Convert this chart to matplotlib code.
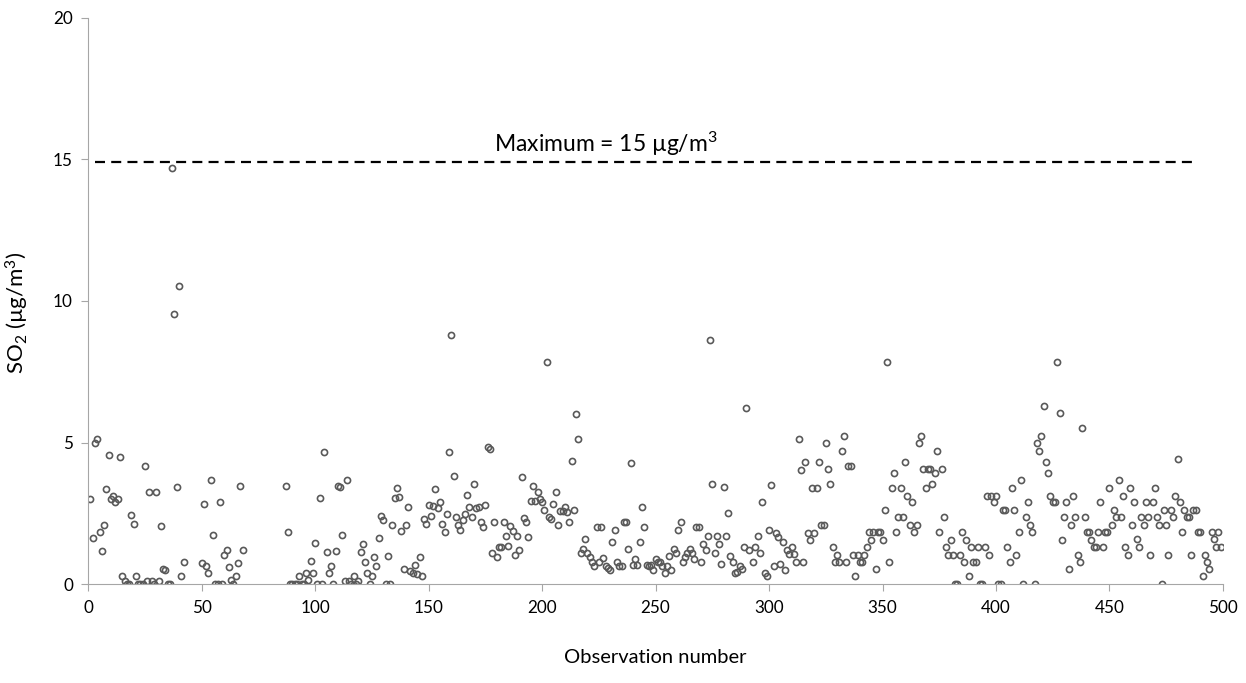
import matplotlib.pyplot as plt

plt.rcParams['font.family'] = ['Lato', 'DejaVu Sans']
plt.rcParams['mathtext.fontset'] = 'custom'
plt.rcParams['mathtext.rm'] = 'Lato'
plt.rcParams['mathtext.it'] = 'Lato'

# observation number / SO2 concentration (ug/m3)
obs_a = [1, 2, 3, 4, 5, 6, 7, 8, 9, 10, 11, 12, 13, 14, 15, 16, 17, 18, 19, 20,
         21, 22, 23, 24, 25, 26, 27, 28, 29, 30, 31, 32, 33, 34, 35, 36, 37, 38, 39, 40,
         41, 42, 50, 51, 52, 53, 54, 55, 56, 57, 58, 59, 60, 61, 62, 63, 64, 65, 66, 67, 68]
so2_a = [3.0, 1.65, 5.0, 5.13, 1.85, 1.19, 2.09, 3.35, 4.56, 3.0, 3.13, 2.89, 3.0, 4.49, 0.29, 0.12, 0, 0, 2.45, 2.13,
         0.29, 0, 0, 0, 4.18, 0.12, 3.25, 0.12, 0, 3.25, 0.12, 2.06, 0.53, 0.49, 0, 0, 14.7, 9.53, 3.45, 10.54,
         0.29, 0.8, 0.76, 2.82, 0.65, 0.41, 3.69, 1.74, 0, 0, 2.89, 0, 1.04, 1.21, 0.6, 0.15, 0, 0.29, 0.76, 3.48, 1.21]

obs_b = list(range(87, 147))
so2_b = [3.48, 1.85, 0, 0, 0, 0, 0.29, 0, 0, 0.41, 0.15, 0.84, 0.41, 1.47,
         0, 3.06, 0, 4.68, 1.15, 0.41, 0.66, 0, 1.19, 3.48, 3.45, 1.74, 0.12, 3.69, 0.12, 0, 0.29, 0, 0.12, 1.15,
         1.42, 0.8, 0.41, 0, 0.29, 0.95, 0.66, 1.65, 2.41, 2.27, 0, 1.01, 0, 2.09, 3.06, 3.39, 3.09, 1.88, 0.53, 2.09,
         2.72, 0.47, 0.39, 0.68, 0.35, 0.95]

obs_c = list(range(147, 245))
so2_c = [0.29, 2.32, 2.13, 2.8, 2.42, 2.78, 3.35, 2.71, 2.89, 2.13, 1.85, 2.48, 4.68, 8.8, 3.84, 2.38, 2.09, 1.92,
         2.27, 2.48, 3.14, 2.74, 2.38, 3.53, 2.71, 2.74, 2.21, 2.02, 2.79, 4.86, 4.76, 1.12, 2.19, 0.95, 1.33, 1.33,
         2.19, 1.72, 1.35, 2.06, 1.89, 1.04, 1.72, 1.21, 3.8, 2.33, 2.2, 1.68,
         2.94, 3.48, 2.94, 3.25, 3.0, 2.89, 2.62, 7.85, 2.39, 2.32, 2.82, 3.25, 2.09, 2.58, 2.59, 2.72, 2.54, 2.2,
         4.36, 2.62, 6.0, 5.12, 1.12, 1.24, 1.61, 1.12, 0.95, 0.8, 0.65, 2.02, 0.8, 2.02, 0.92, 0.66, 0.59, 0.52,
         1.51, 1.92, 0.8, 0.65, 0.65, 2.19, 2.19, 1.24, 4.29, 0.68, 0.91, 0.68, 1.49, 2.72]

obs_d = list(range(245, 292))
so2_d = [2.02, 0.68, 0.65, 0.68, 0.51, 0.91, 0.79, 0.79, 0.65, 0.41, 0.65, 1.01, 0.52, 1.24, 1.12, 1.92, 2.19,
         0.79, 0.95, 1.12, 1.24, 1.12, 0.91, 2.02, 2.02, 0.79, 1.42, 1.21, 1.72, 8.62, 3.53, 1.12, 1.72, 1.42,
         0.71, 3.44, 1.72, 2.52, 1.01, 0.8, 0.41, 0.44, 0.65, 0.55, 1.33, 6.21, 1.21]

obs_e = list(range(293, 341))
so2_e = [0.79, 1.33, 1.71, 1.11, 2.89, 0.41, 0.31, 1.92, 3.52, 0.64, 1.81, 1.68, 0.71, 1.51, 0.51, 1.21,
         1.07, 1.33, 1.07, 0.79, 5.12, 4.05, 0.79, 4.33, 1.82, 1.56, 3.41, 1.82, 3.41, 4.33, 2.09, 2.09, 4.99,
         4.06, 3.53, 1.33, 0.79, 1.04, 0.79, 4.71, 5.25, 0.79, 4.18, 4.18, 1.04, 0.29, 1.04, 0.79]

obs_f = list(range(341, 389))
so2_f = [0.79, 1.04, 1.33, 1.85, 1.56, 1.85, 0.53, 1.85, 1.85, 1.56, 2.62, 7.85, 0.8, 3.41, 3.93, 1.85,
         2.38, 3.41, 2.38, 4.33, 3.13, 2.09, 2.89, 1.85, 2.09, 4.99, 5.25, 4.06, 3.41, 4.06, 4.06, 3.53, 3.93,
         4.71, 1.85, 4.06, 2.38, 1.33, 1.04, 1.56, 1.04, 0, 0, 1.04, 1.85, 0.79, 1.56, 0.29]

obs_g = list(range(389, 438))
so2_g = [1.33, 0.79, 0.79, 1.33, 0, 0, 1.33, 3.13, 1.04, 3.13, 2.89, 3.13, 0, 0, 2.62, 2.62, 1.33, 0.79,
         3.41, 2.62, 1.04, 1.85, 3.67, 0, 2.38, 2.89, 2.09, 1.85, 0, 4.99, 4.71, 5.25, 6.28, 4.33, 3.93, 3.13,
         2.89, 2.89, 7.85, 6.04, 1.56, 2.38, 2.89, 0.53, 2.09, 3.13, 2.38, 1.04, 0.79]

obs_h = list(range(438, 500))
so2_h = [5.52, 2.38, 1.85, 1.85, 1.56, 1.33, 1.33, 1.85, 2.89, 1.33, 1.85, 1.85, 3.41, 2.09, 2.62, 2.38,
         3.67, 2.38, 3.13, 1.33, 1.04, 3.41, 2.09, 2.89, 1.59, 1.33, 2.38, 2.09, 2.89, 2.38, 1.04, 2.89, 3.41,
         2.38, 2.09, 0, 2.62, 2.09, 1.04, 2.62, 2.38, 3.13, 4.43, 2.89, 1.85, 2.62, 2.38, 2.38, 1.04,
         2.62, 2.62, 1.85, 1.85, 0.29, 1.04, 0.79, 0.53, 1.85, 1.59, 1.33, 1.85, 1.33]

obs = obs_a + obs_b + obs_c + obs_d + obs_e + obs_f + obs_g + obs_h
so2 = so2_a + so2_b + so2_c + so2_d + so2_e + so2_f + so2_g + so2_h

limit = 14.9
limit_start, limit_end = 3, 487

fig = plt.figure(figsize=(12.46, 6.83), dpi=100)
ax = fig.add_axes([0.0708, 0.1445, 0.9107, 0.8296])

ax.plot(obs, so2, 'o', ms=4.4, mfc='none', mec='#595959', mew=1.2)
ax.plot([limit_start, limit_end], [limit, limit], '--', color='black', lw=1.6, dashes=(4.5, 2.8))
ax.text(228, 15.25, 'Maximum = 15 \u00b5g/m$^3$', ha='center', va='baseline', fontsize=16.5)

ax.set_xlim(0, 500)
ax.set_ylim(0, 20)
ax.set_xticks(range(0, 501, 50))
ax.set_yticks([0, 5, 10, 15, 20])
for s in ['top', 'right']:
    ax.spines[s].set_visible(False)
for s in ['left', 'bottom']:
    ax.spines[s].set_color('#a6a6a6')
ax.tick_params(direction='out', length=5, color='#a6a6a6', labelsize=12.3, pad=6)

ax.set_xlabel('Observation number', fontsize=14.5)
ax.xaxis.set_label_coords(0.5, -0.115)
ax.set_ylabel('SO$_2$ (\u00b5g/m$^3$)', fontsize=16)
ax.yaxis.set_label_coords(-0.05, 0.48)

fig.savefig('out.png', dpi=100)
